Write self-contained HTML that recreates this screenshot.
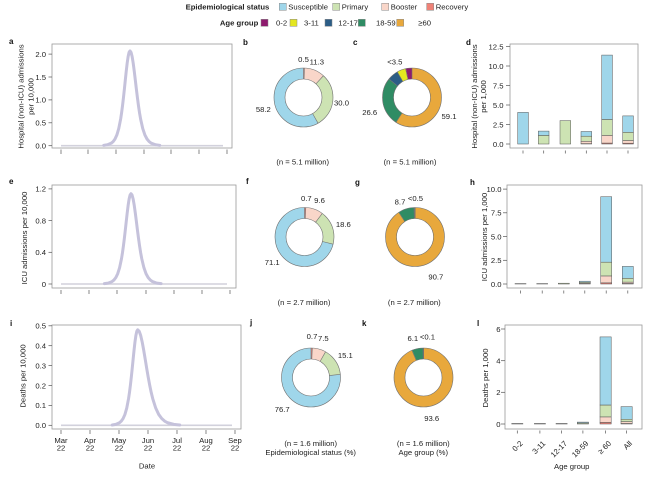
<!DOCTYPE html>
<html><head><meta charset="utf-8"><style>
html,body{margin:0;padding:0;background:#fff;}
svg{display:block;font-family:"Liberation Sans",Arial,sans-serif;}
.t{font-size:7.7px;fill:#222;}
.b{font-weight:bold;}
.lt{font-size:8px;font-weight:bold;fill:#111;}
.box{fill:none;stroke:#9a9a9a;stroke-width:0.8;}
.tk{stroke:#555;stroke-width:0.7;}
.cv{fill:none;stroke:#c5c2db;stroke-width:3;stroke-linejoin:round;stroke-linecap:round;}
.bl{fill:none;stroke:#d2d1dc;stroke-width:1.6;}
.bar{stroke:#555;stroke-width:0.5;}
.ring{fill:none;stroke-width:11;}
.ol{fill:none;stroke:#707070;stroke-width:0.6;}
.sus{fill:#9fd6ea;} .pri{fill:#cde3b3;} .boo{fill:#f9d6c9;} .rec{fill:#ef8277;}
</style></head><body>
<svg width="650" height="480" viewBox="0 0 650 480" xmlns="http://www.w3.org/2000/svg">

<!-- Legend -->
<g class="t">
<text x="269.3" y="9.5" text-anchor="end" class="b">Epidemiological status</text>
<text x="288.3" y="9.5">Susceptible</text>
<text x="341.7" y="9.5">Primary</text>
<text x="390.7" y="9.5">Booster</text>
<text x="435.7" y="9.5">Recovery</text>
<text x="258.3" y="25.5" text-anchor="end" class="b">Age group</text>
<text x="276" y="25.5">0-2</text>
<text x="304" y="25.5">3-11</text>
<text x="338.3" y="25.5">12-17</text>
<text x="376" y="25.5">18-59</text>
<text x="418.3" y="25.5">≥60</text>
</g>
<g stroke="#888" stroke-width="0.5">
<rect x="279.3" y="3.3" width="7" height="7" fill="#9fd6ea"/>
<rect x="332.7" y="3.3" width="7" height="7" fill="#cde3b3"/>
<rect x="381.7" y="3.3" width="7" height="7" fill="#f9d6c9"/>
<rect x="426.7" y="3.3" width="7" height="7" fill="#ef8277"/>
<rect x="261" y="19.3" width="7" height="7" fill="#8e1a6e"/>
<rect x="290" y="19.3" width="7" height="7" fill="#e4e620"/>
<rect x="325" y="19.3" width="7" height="7" fill="#2c5d86"/>
<rect x="358.3" y="19.3" width="7" height="7" fill="#2f8c64"/>
<rect x="396.7" y="19.3" width="7" height="7" fill="#e8a83c"/>
</g>

<!-- Panel letters -->
<g class="lt">
<text x="9" y="44">a</text><text x="243" y="45">b</text><text x="353" y="45">c</text><text x="466" y="45">d</text>
<text x="9" y="184">e</text><text x="246" y="184">f</text><text x="355" y="185">g</text><text x="470" y="185">h</text>
<text x="10" y="326">i</text><text x="250" y="325">j</text><text x="362" y="326">k</text><text x="477" y="326">l</text>
</g>

<!-- ===== Panel a ===== -->
<rect class="box" x="52" y="44" width="180" height="104"/>
<g class="tk">
<line x1="48.5" y1="145.7" x2="52" y2="145.7"/><line x1="48.5" y1="122.8" x2="52" y2="122.8"/><line x1="48.5" y1="99.9" x2="52" y2="99.9"/><line x1="48.5" y1="77" x2="52" y2="77"/><line x1="48.5" y1="54.1" x2="52" y2="54.1"/>
<line x1="61" y1="149.5" x2="61" y2="154"/><line x1="88" y1="149.5" x2="88" y2="154"/><line x1="116" y1="149.5" x2="116" y2="154"/><line x1="144" y1="149.5" x2="144" y2="154"/><line x1="171" y1="149.5" x2="171" y2="154"/><line x1="199" y1="149.5" x2="199" y2="154"/><line x1="227" y1="149.5" x2="227" y2="154"/>
</g>
<g class="t" text-anchor="end">
<text x="46" y="148.5">0.0</text><text x="46" y="125.6">0.5</text><text x="46" y="102.7">1.0</text><text x="46" y="79.8">1.5</text><text x="46" y="56.9">2.0</text>
</g>
<text class="t" text-anchor="middle" transform="translate(23.5,96.5) rotate(-90)">Hospital (non-ICU) admissions</text>
<text class="t" text-anchor="middle" transform="translate(33.5,96.5) rotate(-90)">per 10,000</text>
<line class="bl" x1="61" y1="145.7" x2="223" y2="145.7"/>
<polyline class="cv" points="103.75,145.36 107.5,144.76 111.25,143.18 113.13,141.58 115,139 116.88,134.91 118.75,128.57 120.63,119.12 121.56,113.03 122.5,105.88 123.44,97.86 124.38,89.14 125.31,80.06 126.25,71.15 127.19,63.06 128.13,56.59 129.06,52.37 130,50.9 131.06,52.37 132.13,56.59 133.19,63.06 134.25,71.15 135.31,80.06 136.38,89.14 137.44,97.86 138.5,105.88 139.56,113.03 140.63,119.12 142.75,128.57 144.88,134.91 147,139 149.13,141.58 151.25,143.18 155.5,144.76 159.75,145.36"/>

<!-- ===== Panel e ===== -->
<rect class="box" x="52" y="185" width="184" height="103"/>
<g class="tk">
<line x1="48.5" y1="284" x2="52" y2="284"/><line x1="48.5" y1="252.3" x2="52" y2="252.3"/><line x1="48.5" y1="220.6" x2="52" y2="220.6"/><line x1="48.5" y1="188.9" x2="52" y2="188.9"/>
<line x1="61" y1="290" x2="61" y2="294"/><line x1="89" y1="290" x2="89" y2="294"/><line x1="117" y1="290" x2="117" y2="294"/><line x1="146" y1="290" x2="146" y2="294"/><line x1="174" y1="290" x2="174" y2="294"/><line x1="202" y1="290" x2="202" y2="294"/><line x1="230" y1="290" x2="230" y2="294"/>
</g>
<g class="t" text-anchor="end">
<text x="46" y="286.8">0</text><text x="46" y="255.1">0.4</text><text x="46" y="223.4">0.8</text><text x="46" y="191.7">1.2</text>
</g>
<text class="t" text-anchor="middle" transform="translate(26.8,238) rotate(-90)">ICU admissions per 10,000</text>
<line class="bl" x1="61" y1="284" x2="227" y2="284"/>
<polyline class="cv" points="104.4,283.67 108.2,283.11 112,281.6 113.9,280.07 115.8,277.62 117.7,273.72 119.6,267.68 121.5,258.68 122.45,252.88 123.4,246.07 124.35,238.43 125.3,230.13 126.25,221.48 127.2,212.99 128.15,205.29 129.1,199.12 130.05,195.1 131,193.7 132.08,195.1 133.15,199.12 134.23,205.29 135.3,212.99 136.38,221.48 137.45,230.13 138.53,238.43 139.6,246.07 140.68,252.88 141.75,258.68 143.9,267.68 146.05,273.72 148.2,277.62 150.35,280.07 152.5,281.6 156.8,283.11 161.1,283.67"/>

<!-- ===== Panel i ===== -->
<rect class="box" x="52" y="325" width="189" height="104"/>
<g class="tk">
<line x1="48.5" y1="425.3" x2="52" y2="425.3"/><line x1="48.5" y1="405.4" x2="52" y2="405.4"/><line x1="48.5" y1="385.5" x2="52" y2="385.5"/><line x1="48.5" y1="365.6" x2="52" y2="365.6"/><line x1="48.5" y1="345.7" x2="52" y2="345.7"/><line x1="48.5" y1="325.8" x2="52" y2="325.8"/>
<line x1="61" y1="430" x2="61" y2="434"/><line x1="90" y1="430" x2="90" y2="434"/><line x1="119" y1="430" x2="119" y2="434"/><line x1="148" y1="430" x2="148" y2="434"/><line x1="177" y1="430" x2="177" y2="434"/><line x1="206" y1="430" x2="206" y2="434"/><line x1="235" y1="430" x2="235" y2="434"/>
</g>
<g class="t" text-anchor="end">
<text x="46" y="428.1">0.0</text><text x="46" y="408.2">0.1</text><text x="46" y="388.3">0.2</text><text x="46" y="368.4">0.3</text><text x="46" y="348.5">0.4</text><text x="46" y="328.6">0.5</text>
</g>
<g class="t" text-anchor="middle">
<text x="61" y="443">Mar</text><text x="90" y="443">Apr</text><text x="119" y="443">May</text><text x="148" y="443">Jun</text><text x="177" y="443">Jul</text><text x="206" y="443">Aug</text><text x="235" y="443">Sep</text>
<text x="61" y="450.5">22</text><text x="90" y="450.5">22</text><text x="119" y="450.5">22</text><text x="148" y="450.5">22</text><text x="177" y="450.5">22</text><text x="206" y="450.5">22</text><text x="235" y="450.5">22</text>
<text x="147" y="468.5">Date</text>
</g>
<text class="t" text-anchor="middle" transform="translate(25.5,376) rotate(-90)">Deaths per 10,000</text>
<line class="bl" x1="61" y1="425.3" x2="232" y2="425.3"/>
<polyline class="cv" points="112.15,424.96 115.8,424.35 119.45,422.76 121.28,421.15 123.1,418.55 124.93,414.43 126.75,408.04 128.58,398.52 129.49,392.39 130.4,385.19 131.31,377.11 132.23,368.32 133.14,359.18 134.05,350.2 134.96,342.05 135.88,335.53 136.79,331.28 137.7,329.8 139.2,331.28 140.7,335.53 142.2,342.05 143.7,350.2 145.2,359.18 146.7,368.32 148.2,377.11 149.7,385.19 151.2,392.39 152.7,398.52 155.7,408.04 158.7,414.43 161.7,418.55 164.7,421.15 167.7,422.76 173.7,424.35 179.7,424.96"/>

<!-- ===== Donut b ===== -->
<g transform="rotate(-90 303.5 97.5)">
<circle class="ring" cx="303.5" cy="97.5" r="24" stroke="#ef8277" stroke-dasharray="0.754 200" stroke-dashoffset="0"/>
<circle class="ring" cx="303.5" cy="97.5" r="24" stroke="#f9d6c9" stroke-dasharray="17.04 200" stroke-dashoffset="-0.754"/>
<circle class="ring" cx="303.5" cy="97.5" r="24" stroke="#cde3b3" stroke-dasharray="45.24 200" stroke-dashoffset="-17.794"/>
<circle class="ring" cx="303.5" cy="97.5" r="24" stroke="#9fd6ea" stroke-dasharray="87.76 200" stroke-dashoffset="-63.033"/>
</g>
<circle class="ol" cx="303.5" cy="97.5" r="29.5"/><circle class="ol" cx="303.5" cy="97.5" r="18.5"/>
<g class="ol">
<line x1="303.5" y1="79" x2="303.5" y2="68"/>
<line x1="303.5" y1="79" x2="303.5" y2="68" transform="rotate(1.8 303.5 97.5)"/>
<line x1="303.5" y1="79" x2="303.5" y2="68" transform="rotate(42.48 303.5 97.5)"/>
<line x1="303.5" y1="79" x2="303.5" y2="68" transform="rotate(150.48 303.5 97.5)"/>
</g>
<g class="t" text-anchor="middle">
<text x="303.5" y="62">0.5</text><text x="316.8" y="64.5">11.3</text><text x="341.5" y="105.5">30.0</text><text x="263.3" y="111.8">58.2</text>
<text x="302.7" y="164.5">(n = 5.1 million)</text>
</g>

<!-- ===== Donut c ===== -->
<g transform="rotate(-90 412 97.5)">
<circle class="ring" cx="412" cy="97.5" r="24" stroke="#e8a83c" stroke-dasharray="89.12 200" stroke-dashoffset="0"/>
<circle class="ring" cx="412" cy="97.5" r="24" stroke="#2f8c64" stroke-dasharray="40.11 200" stroke-dashoffset="-89.12"/>
<circle class="ring" cx="412" cy="97.5" r="24" stroke="#2c5d86" stroke-dasharray="9.05 200" stroke-dashoffset="-129.23"/>
<circle class="ring" cx="412" cy="97.5" r="24" stroke="#e4e620" stroke-dasharray="7.24 200" stroke-dashoffset="-138.28"/>
<circle class="ring" cx="412" cy="97.5" r="24" stroke="#8e1a6e" stroke-dasharray="5.28 200" stroke-dashoffset="-145.52"/>
</g>
<circle class="ol" cx="412" cy="97.5" r="29.5"/><circle class="ol" cx="412" cy="97.5" r="18.5"/>
<g class="ol">
<line x1="412" y1="79" x2="412" y2="68"/>
<line x1="412" y1="79" x2="412" y2="68" transform="rotate(212.76 412 97.5)"/>
<line x1="412" y1="79" x2="412" y2="68" transform="rotate(308.52 412 97.5)"/>
<line x1="412" y1="79" x2="412" y2="68" transform="rotate(330.12 412 97.5)"/>
<line x1="412" y1="79" x2="412" y2="68" transform="rotate(347.4 412 97.5)"/>
</g>
<g class="t" text-anchor="middle">
<text x="394.8" y="64.5">&lt;3.5</text><text x="369.7" y="115">26.6</text><text x="449" y="119">59.1</text>
<text x="410" y="164.5">(n = 5.1 million)</text>
</g>

<!-- ===== Donut f ===== -->
<g transform="rotate(-90 304.5 237)">
<circle class="ring" cx="304.5" cy="237" r="24" stroke="#ef8277" stroke-dasharray="1.056 200" stroke-dashoffset="0"/>
<circle class="ring" cx="304.5" cy="237" r="24" stroke="#f9d6c9" stroke-dasharray="14.48 200" stroke-dashoffset="-1.056"/>
<circle class="ring" cx="304.5" cy="237" r="24" stroke="#cde3b3" stroke-dasharray="28.05 200" stroke-dashoffset="-15.53"/>
<circle class="ring" cx="304.5" cy="237" r="24" stroke="#9fd6ea" stroke-dasharray="107.22 200" stroke-dashoffset="-43.58"/>
</g>
<circle class="ol" cx="304.5" cy="237" r="29.5"/><circle class="ol" cx="304.5" cy="237" r="18.5"/>
<g class="ol">
<line x1="304.5" y1="218.5" x2="304.5" y2="207.5"/>
<line x1="304.5" y1="218.5" x2="304.5" y2="207.5" transform="rotate(2.52 304.5 237)"/>
<line x1="304.5" y1="218.5" x2="304.5" y2="207.5" transform="rotate(37.08 304.5 237)"/>
<line x1="304.5" y1="218.5" x2="304.5" y2="207.5" transform="rotate(104.04 304.5 237)"/>
</g>
<g class="t" text-anchor="middle">
<text x="306.3" y="201">0.7</text><text x="319.5" y="202.8">9.6</text><text x="343.3" y="227">18.6</text><text x="272.2" y="265">71.1</text>
<text x="304" y="305">(n = 2.7 million)</text>
</g>

<!-- ===== Donut g ===== -->
<g transform="rotate(-90 415 237)">
<circle class="ring" cx="415" cy="237" r="24" stroke="#e8a83c" stroke-dasharray="136.77 200" stroke-dashoffset="0"/>
<circle class="ring" cx="415" cy="237" r="24" stroke="#2f8c64" stroke-dasharray="13.12 200" stroke-dashoffset="-136.77"/>
<circle class="ring" cx="415" cy="237" r="24" stroke="#2c5d86" stroke-dasharray="0.6 200" stroke-dashoffset="-149.89"/>
<circle class="ring" cx="415" cy="237" r="24" stroke="#8e1a6e" stroke-dasharray="0.3 200" stroke-dashoffset="-150.49"/>
</g>
<circle class="ol" cx="415" cy="237" r="29.5"/><circle class="ol" cx="415" cy="237" r="18.5"/>
<g class="ol">
<line x1="415" y1="218.5" x2="415" y2="207.5" stroke-width="1"/>
<line x1="415" y1="218.5" x2="415" y2="207.5" transform="rotate(326.52 415 237)"/>
<line x1="415" y1="218.5" x2="415" y2="207.5" transform="rotate(357.84 415 237)"/>
</g>
<g class="t" text-anchor="middle">
<text x="400" y="204.5">8.7</text><text x="415.5" y="201">&lt;0.5</text><text x="435.8" y="279.5">90.7</text>
<text x="414.3" y="305">(n = 2.7 million)</text>
</g>

<!-- ===== Donut j ===== -->
<g transform="rotate(-90 311 377.5)">
<circle class="ring" cx="311" cy="377.5" r="24" stroke="#ef8277" stroke-dasharray="1.056 200" stroke-dashoffset="0"/>
<circle class="ring" cx="311" cy="377.5" r="24" stroke="#f9d6c9" stroke-dasharray="11.31 200" stroke-dashoffset="-1.056"/>
<circle class="ring" cx="311" cy="377.5" r="24" stroke="#cde3b3" stroke-dasharray="22.77 200" stroke-dashoffset="-12.365"/>
<circle class="ring" cx="311" cy="377.5" r="24" stroke="#9fd6ea" stroke-dasharray="115.66 200" stroke-dashoffset="-35.14"/>
</g>
<circle class="ol" cx="311" cy="377.5" r="29.5"/><circle class="ol" cx="311" cy="377.5" r="18.5"/>
<g class="ol">
<line x1="311" y1="359" x2="311" y2="348"/>
<line x1="311" y1="359" x2="311" y2="348" transform="rotate(2.52 311 377.5)"/>
<line x1="311" y1="359" x2="311" y2="348" transform="rotate(29.52 311 377.5)"/>
<line x1="311" y1="359" x2="311" y2="348" transform="rotate(83.88 311 377.5)"/>
</g>
<g class="t" text-anchor="middle">
<text x="312" y="338.8">0.7</text><text x="323.3" y="341">7.5</text><text x="345.3" y="357.8">15.1</text><text x="282.2" y="411.8">76.7</text>
<text x="310.7" y="446">(n = 1.6 million)</text>
<text x="310.7" y="455">Epidemiological status (%)</text>
</g>

<!-- ===== Donut k ===== -->
<g transform="rotate(-90 423.5 377.5)">
<circle class="ring" cx="423.5" cy="377.5" r="24" stroke="#e8a83c" stroke-dasharray="141.15 200" stroke-dashoffset="0"/>
<circle class="ring" cx="423.5" cy="377.5" r="24" stroke="#2f8c64" stroke-dasharray="9.2 200" stroke-dashoffset="-141.15"/>
<circle class="ring" cx="423.5" cy="377.5" r="24" stroke="#2c5d86" stroke-dasharray="0.45 200" stroke-dashoffset="-150.34"/>
</g>
<circle class="ol" cx="423.5" cy="377.5" r="29.5"/><circle class="ol" cx="423.5" cy="377.5" r="18.5"/>
<g class="ol">
<line x1="423.5" y1="359" x2="423.5" y2="348" stroke-width="1"/>
<line x1="423.5" y1="359" x2="423.5" y2="348" transform="rotate(336.96 423.5 377.5)"/>
<line x1="423.5" y1="359" x2="423.5" y2="348" transform="rotate(358.92 423.5 377.5)"/>
</g>
<g class="t" text-anchor="middle">
<text x="412.8" y="341">6.1</text><text x="427.5" y="339.5">&lt;0.1</text><text x="431.7" y="421">93.6</text>
<text x="423.3" y="446">(n = 1.6 million)</text>
<text x="423.3" y="455">Age group (%)</text>
</g>

<!-- ===== Panel d ===== -->
<rect class="box" x="510" y="44" width="128" height="104"/>
<g class="tk">
<line x1="506" y1="144" x2="510" y2="144"/><line x1="506" y1="124.5" x2="510" y2="124.5"/><line x1="506" y1="105" x2="510" y2="105"/><line x1="506" y1="85.5" x2="510" y2="85.5"/><line x1="506" y1="66" x2="510" y2="66"/><line x1="506" y1="46.5" x2="510" y2="46.5"/>
<line x1="523" y1="150.5" x2="523" y2="153.5"/><line x1="543.7" y1="150.5" x2="543.7" y2="153.5"/><line x1="565.3" y1="150.5" x2="565.3" y2="153.5"/><line x1="586.3" y1="150.5" x2="586.3" y2="153.5"/><line x1="607" y1="150.5" x2="607" y2="153.5"/><line x1="628" y1="150.5" x2="628" y2="153.5"/>
</g>
<g class="t" text-anchor="end">
<text x="503.5" y="146.8">0.0</text><text x="503.5" y="127.3">2.5</text><text x="503.5" y="107.8">5.0</text><text x="503.5" y="88.3">7.5</text><text x="503.5" y="68.8">10.0</text><text x="503.5" y="49.3">12.5</text>
</g>
<text class="t" text-anchor="middle" transform="translate(476.8,96.5) rotate(-90)">Hospital (non-ICU) admissions</text>
<text class="t" text-anchor="middle" transform="translate(485.8,96.5) rotate(-90)">per 1,000</text>
<g class="bar">
<rect class="sus" x="517.7" y="112.4" width="10.7" height="31.6"/>
<rect class="pri" x="538.3" y="135.4" width="10.7" height="8.6"/>
<rect class="sus" x="538.3" y="131.1" width="10.7" height="4.3"/>
<rect class="pri" x="560" y="120.6" width="10.7" height="23.4"/>
<rect class="rec" x="581" y="143.6" width="10.7" height="0.4"/>
<rect class="boo" x="581" y="141.3" width="10.7" height="2.3"/>
<rect class="pri" x="581" y="136.2" width="10.7" height="5.1"/>
<rect class="sus" x="581" y="131.5" width="10.7" height="4.7"/>
<rect class="rec" x="601.7" y="143.06" width="10.7" height="0.94"/>
<rect class="boo" x="601.7" y="135.42" width="10.7" height="7.64"/>
<rect class="pri" x="601.7" y="119.43" width="10.7" height="15.99"/>
<rect class="sus" x="601.7" y="55.08" width="10.7" height="64.35"/>
<rect class="rec" x="622.7" y="143.2" width="10.7" height="0.8"/>
<rect class="boo" x="622.7" y="140.5" width="10.7" height="2.7"/>
<rect class="pri" x="622.7" y="132.3" width="10.7" height="8.2"/>
<rect class="sus" x="622.7" y="115.9" width="10.7" height="16.4"/>
</g>

<!-- ===== Panel h ===== -->
<rect class="box" x="507" y="185" width="135" height="103"/>
<g class="tk">
<line x1="503" y1="284" x2="507" y2="284"/><line x1="503" y1="260.3" x2="507" y2="260.3"/><line x1="503" y1="236.55" x2="507" y2="236.55"/><line x1="503" y1="212.8" x2="507" y2="212.8"/><line x1="503" y1="189.1" x2="507" y2="189.1"/>
<line x1="520.5" y1="290.5" x2="520.5" y2="293.5"/><line x1="542.2" y1="290.5" x2="542.2" y2="293.5"/><line x1="563.8" y1="290.5" x2="563.8" y2="293.5"/><line x1="584.8" y1="290.5" x2="584.8" y2="293.5"/><line x1="606.2" y1="290.5" x2="606.2" y2="293.5"/><line x1="627.8" y1="290.5" x2="627.8" y2="293.5"/>
</g>
<g class="t" text-anchor="end">
<text x="501.5" y="286.8">0.0</text><text x="501.5" y="263.1">2.5</text><text x="501.5" y="239.35">5.0</text><text x="501.5" y="215.6">7.5</text><text x="501.5" y="191.9">10.0</text>
</g>
<text class="t" text-anchor="middle" transform="translate(486.8,237) rotate(-90)">ICU admissions per 1,000</text>
<g class="bar">
<rect class="sus" x="515" y="283.6" width="11" height="0.4"/>
<rect class="sus" x="536.7" y="283.6" width="11" height="0.4"/>
<rect class="pri" x="558.3" y="283.2" width="11" height="0.8"/>
<rect class="boo" x="579.3" y="283.3" width="11" height="0.7"/>
<rect class="pri" x="579.3" y="282.3" width="11" height="1"/>
<rect class="sus" x="579.3" y="281.2" width="11" height="1.1"/>
<rect class="rec" x="600.7" y="282.86" width="11" height="1.14"/>
<rect class="boo" x="600.7" y="275.93" width="11" height="6.93"/>
<rect class="pri" x="600.7" y="262.17" width="11" height="13.76"/>
<rect class="sus" x="600.7" y="196.7" width="11" height="65.47"/>
<rect class="rec" x="622.3" y="283.5" width="11" height="0.5"/>
<rect class="boo" x="622.3" y="282.1" width="11" height="1.4"/>
<rect class="pri" x="622.3" y="278.3" width="11" height="3.8"/>
<rect class="sus" x="622.3" y="266.4" width="11" height="11.9"/>
</g>

<!-- ===== Panel l ===== -->
<rect class="box" x="505" y="325" width="137" height="104"/>
<g class="tk">
<line x1="501" y1="424" x2="505" y2="424"/><line x1="501" y1="392.3" x2="505" y2="392.3"/><line x1="501" y1="360.7" x2="505" y2="360.7"/><line x1="501" y1="329" x2="505" y2="329"/>
<line x1="517.3" y1="430.5" x2="517.3" y2="433.5"/><line x1="539.9" y1="430.5" x2="539.9" y2="433.5"/><line x1="561.6" y1="430.5" x2="561.6" y2="433.5"/><line x1="582.9" y1="430.5" x2="582.9" y2="433.5"/><line x1="605.6" y1="430.5" x2="605.6" y2="433.5"/><line x1="626.6" y1="430.5" x2="626.6" y2="433.5"/>
</g>
<g class="t" text-anchor="end">
<text x="500.5" y="426.8">0</text><text x="500.5" y="395.1">2</text><text x="500.5" y="363.5">4</text><text x="500.5" y="331.8">6</text>
</g>
<text class="t" text-anchor="middle" transform="translate(487.8,378) rotate(-90)">Deaths per 1,000</text>
<g class="bar">
<rect class="sus" x="511.7" y="423.5" width="11.2" height="0.5"/>
<rect class="sus" x="534.3" y="423.5" width="11.2" height="0.5"/>
<rect class="sus" x="556" y="423.5" width="11.2" height="0.5"/>
<rect class="pri" x="577.3" y="423" width="11.2" height="1"/>
<rect class="sus" x="577.3" y="422.1" width="11.2" height="0.9"/>
<rect class="rec" x="600" y="422.4" width="11.2" height="1.6"/>
<rect class="boo" x="600" y="416.9" width="11.2" height="5.5"/>
<rect class="pri" x="600" y="405" width="11.2" height="11.9"/>
<rect class="sus" x="600" y="336.9" width="11.2" height="68.1"/>
<rect class="rec" x="621" y="423.5" width="11.2" height="0.5"/>
<rect class="boo" x="621" y="421.6" width="11.2" height="1.9"/>
<rect class="pri" x="621" y="419.25" width="11.2" height="2.35"/>
<rect class="sus" x="621" y="406.6" width="11.2" height="12.65"/>
</g>
<g class="t" text-anchor="end">
<text transform="translate(523.3,444) rotate(-45)">0-2</text>
<text transform="translate(545.9,444) rotate(-45)">3-11</text>
<text transform="translate(567.6,444) rotate(-45)">12-17</text>
<text transform="translate(588.9,444) rotate(-45)">18-59</text>
<text transform="translate(611.6,444) rotate(-45)">≥ 60</text>
<text transform="translate(632.6,444) rotate(-45)">All</text>
</g>
<text class="t" x="571.7" y="469" text-anchor="middle">Age group</text>
</svg>
</body></html>
